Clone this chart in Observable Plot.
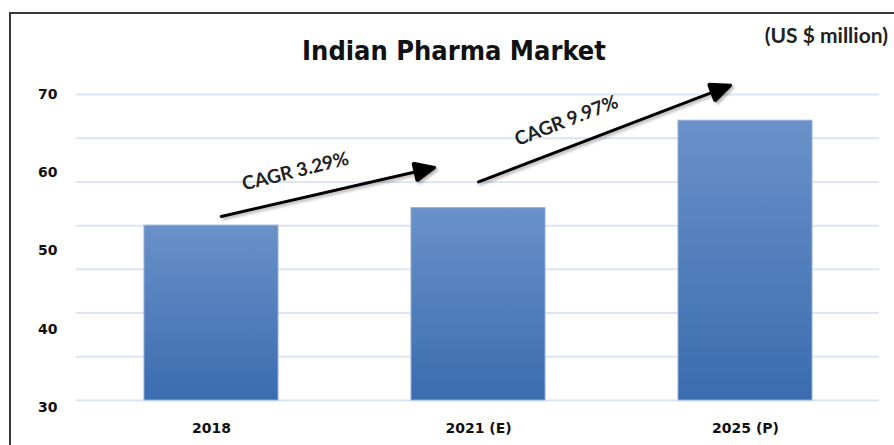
<!DOCTYPE html>
<html><head><meta charset="utf-8">
<script src="https://cdn.jsdelivr.net/npm/d3@7"></script>
<script src="https://cdn.jsdelivr.net/npm/@observablehq/plot@0.6"></script>
<style>
html,body{margin:0;padding:0;background:#fff;}
#wrap{position:relative;width:894px;height:445px;overflow:hidden;background:#fff;}
#frame{position:absolute;left:9px;top:12px;width:1000px;height:1000px;border-top:2px solid #3a3a3a;border-left:2px solid #3a3a3a;}
#main{position:absolute;left:0;top:0;}
#yaxis{position:absolute;left:0;top:0;width:80px;height:412px;overflow:hidden;}
#title{position:absolute;left:0;width:908px;top:35px;text-align:center;font-family:"DejaVu Sans Condensed","DejaVu Sans";font-stretch:condensed;font-weight:bold;font-size:27px;line-height:1.164;color:#111;}
#unit{position:absolute;right:6px;top:22px;font-family:Lato;font-weight:bold;font-size:21px;line-height:1.2;color:#222;}
</style></head><body>
<div id="wrap">
<div id="frame"></div>
<div id="main"></div>
<div id="yaxis"></div>
<div id="title">Indian Pharma Market</div>
<div id="unit">(US $ million)</div>
</div>
<script>
const categories = ["2018", "2021 (E)", "2025 (P)"];
const values = [40, 44, 64];
const gridValues = [0, 10, 20, 30, 40, 50, 60, 70];
const tickLabels = [30, 40, 50, 60, 70];
const cagrLabels = ["CAGR 3.29%", "CAGR 9.97%"];
const arrowFrom = ["2018", "2021 (E)"];
const arrowTo = ["2021 (E)", "2025 (P)"];
const arrowStartValues = [41.6, 50.0];
const arrowEndValues = [55.6, 73.4];
const labelValues = [52.4, 64.0];

const bars = categories.map((c, i) => ({category: c, value: values[i]}));
const arrows = arrowFrom.map((f, i) => ({from: f, to: arrowTo[i], y1: arrowStartValues[i], y2: arrowEndValues[i], label: cagrLabels[i], ly: labelValues[i]}));

const textStyle = {fontFamily: "Lato", fontWeight: "bold", fontSize: 19, fill: "#222"};
const arrowStyle = {stroke: "#000", strokeWidth: 3, headLength: 11, headAngle: 48, className: "cagr-arrow"};

const main = Plot.plot({
  width: 894, height: 445,
  marginLeft: 76, marginRight: 15, marginTop: 94, marginBottom: 45,
  style: {background: "transparent", overflow: "visible"},
  x: {domain: categories, paddingInner: 0.5, paddingOuter: 0.25, label: null},
  y: {domain: [0, 70], axis: null, label: null},
  marks: [
    Plot.ruleY(gridValues, {stroke: "#dbe5f4", strokeWidth: 2}),
    Plot.barY(bars, {x: "category", y: "value", fill: "url(#barGrad)", stroke: "#90aedb", strokeWidth: 1}),
    Plot.axisX({tickSize: 0, tickPadding: 23, fontSize: 14, fontWeight: "bold", fontFamily: "DejaVu Sans", fill: "#111", label: null}),
    Plot.arrow([arrows[0]], {x1: "from", x2: "to", y1: "y1", y2: "y2", insetStart: 10, insetEnd: 45, ...arrowStyle}),
    Plot.arrow([arrows[1]], {x1: "from", x2: "to", y1: "y1", y2: "y2", insetStart: 0, insetEnd: 16, ...arrowStyle}),
    Plot.text([arrows[0]], {x: "from", y: "ly", text: "label", dx: 84, rotate: -14, ...textStyle}),
    Plot.text([arrows[1]], {x: "from", y: "ly", text: "label", dx: 88, rotate: -21, ...textStyle})
  ]
});

const defs = d3.select(main).insert("defs", ":first-child");
const grad = defs.append("linearGradient").attr("id", "barGrad").attr("x1", 0).attr("y1", 0).attr("x2", 0).attr("y2", 1);
grad.append("stop").attr("offset", "0%").attr("stop-color", "#6a91c9");
grad.append("stop").attr("offset", "100%").attr("stop-color", "#3a6caf");
// close the arrow heads into filled triangles and add a soft shadow
d3.select(main).selectAll(".cagr-arrow")
  .style("filter", "drop-shadow(2px 2px 1.5px rgba(0,0,0,0.3))")
  .selectAll("path")
  .each(function() { this.setAttribute("d", this.getAttribute("d") + "Z"); })
  .attr("fill", "#000")
  .attr("stroke-linejoin", "miter");
document.getElementById("main").appendChild(main);

const yPlot = Plot.plot({
  width: 80, height: 412,
  marginLeft: 60, marginRight: 20, marginTop: 94, marginBottom: 5,
  style: {background: "transparent"},
  y: {domain: [30, 70]},
  marks: [
    Plot.axisY(tickLabels, {tickSize: 0, tickPadding: 3, fontSize: 14, fontWeight: "bold", fontFamily: "DejaVu Sans", fill: "#111", label: null})
  ]
});
document.getElementById("yaxis").appendChild(yPlot);
</script>
</body></html>
